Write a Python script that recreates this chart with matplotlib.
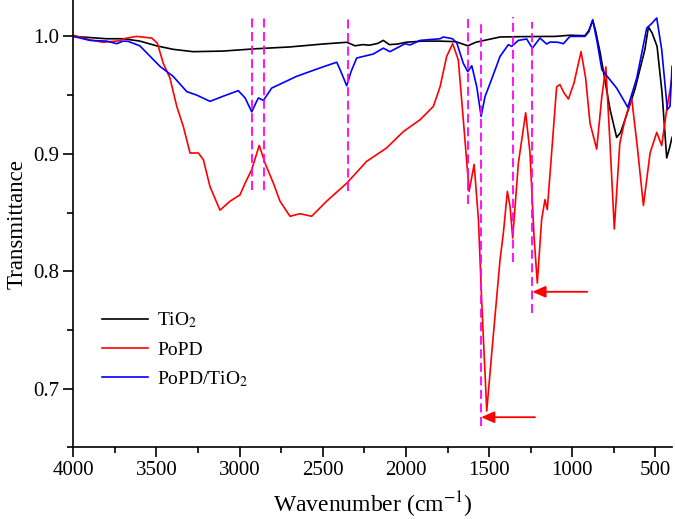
import numpy as np
import matplotlib
matplotlib.use('Agg')
import matplotlib.pyplot as plt
from matplotlib.ticker import MultipleLocator

plt.rcParams['font.family'] = ['Liberation Serif', 'DejaVu Serif']
plt.rcParams['mathtext.fontset'] = 'stix'

# TiO2 spectrum (wavenumber, transmittance)
tio2_wn = [4000, 3900, 3800, 3700, 3600, 3500, 3400, 3280, 3100, 2900, 2700, 2500,
           2355, 2306, 2260, 2220, 2170, 2136, 2100, 2050, 2000, 1900, 1800, 1700,
           1628, 1580, 1500, 1434, 1300, 1100, 1014, 924, 900, 877, 860, 832, 800,
           773, 733, 710, 683, 623, 563, 542, 520, 490, 460, 432, 415, 400]
tio2_t = [1.000, 0.999, 0.998, 0.998, 0.996, 0.992, 0.989, 0.987, 0.9875, 0.9895,
          0.991, 0.9935, 0.995, 0.992, 0.993, 0.9925, 0.994, 0.9966, 0.993, 0.9935,
          0.995, 0.996, 0.996, 0.9955, 0.992, 0.995, 0.9975, 0.9995, 0.9998, 1.000,
          1.001, 1.0006, 1.005, 1.0136, 1.005, 0.986, 0.960, 0.938, 0.914, 0.918,
          0.929, 0.955, 0.989, 1.008, 1.003, 0.9915, 0.952, 0.8965, 0.905, 0.914]

# PoPD spectrum
popd_wn = [4000, 3900, 3820, 3719, 3699, 3619, 3529, 3495, 3459, 3419, 3378, 3338,
           3298, 3248, 3218, 3178, 3118, 3058, 2998, 2967, 2927, 2882, 2847, 2797,
           2757, 2697, 2637, 2567, 2477, 2356, 2236, 2116, 2015, 1915, 1835, 1795,
           1755, 1719, 1685, 1655, 1620, 1590, 1564, 1544, 1514, 1484, 1434, 1414,
           1390, 1374, 1358, 1324, 1280, 1254, 1230, 1210, 1184, 1164, 1150, 1124,
           1094, 1074, 1050, 1023, 990, 947, 920, 893, 853, 822, 798, 773, 747, 714,
           683, 643, 609, 572, 532, 492, 462, 432, 400]
popd_t = [1.001, 0.997, 0.995, 0.9963, 0.998, 1.000, 0.9986, 0.9944, 0.977, 0.9646,
          0.9404, 0.923, 0.9007, 0.9007, 0.895, 0.872, 0.852, 0.8596, 0.865, 0.875,
          0.8866, 0.9072, 0.892, 0.875, 0.8596, 0.8468, 0.849, 0.8468, 0.8596, 0.875,
          0.8936, 0.905, 0.919, 0.929, 0.9404, 0.957, 0.983, 0.9938, 0.980, 0.929,
          0.868, 0.891, 0.844, 0.773, 0.681, 0.7305, 0.81, 0.8327, 0.868, 0.8553,
          0.8284, 0.892, 0.935, 0.9007, 0.830, 0.790, 0.844, 0.861, 0.8525, 0.9007,
          0.957, 0.959, 0.952, 0.9467, 0.960, 0.987, 0.965, 0.926, 0.904, 0.949,
          0.974, 0.909, 0.836, 0.909, 0.929, 0.9476, 0.9064, 0.856, 0.9007, 0.9183,
          0.907, 0.9376, 0.9646]

# PoPD/TiO2 spectrum
comp_wn = [4000, 3900, 3800, 3739, 3700, 3671, 3600, 3479, 3400, 3318, 3258, 3178,
           3100, 3008, 2967, 2927, 2900, 2887, 2857, 2807, 2657, 2500, 2416, 2396,
           2356, 2330, 2296, 2196, 2136, 2096, 2005, 1975, 1915, 1795, 1775, 1720,
           1694, 1655, 1628, 1604, 1574, 1548, 1524, 1494, 1434, 1384, 1364, 1324,
           1274, 1240, 1194, 1154, 1133, 1086, 1053, 1014, 924, 900, 877, 850, 822,
           782, 733, 666, 612, 552, 522, 492, 462, 428, 412, 400]
comp_t = [1.000, 0.9966, 0.996, 0.9938, 0.996, 0.9958, 0.992, 0.9745, 0.966, 0.953,
          0.950, 0.9447, 0.949, 0.9538, 0.9476, 0.9357, 0.944, 0.9476, 0.9455, 0.956,
          0.966, 0.974, 0.978, 0.9717, 0.958, 0.970, 0.9816, 0.985, 0.990, 0.987,
          0.9938, 0.9927, 0.9966, 0.998, 0.9995, 0.998, 0.9944, 0.977, 0.970, 0.975,
          0.957, 0.932, 0.949, 0.960, 0.983, 0.993, 0.9915, 0.9966, 0.9978, 0.990,
          0.9986, 0.9935, 0.9952, 0.995, 0.9938, 1.000, 1.000, 1.004, 1.0142, 0.995,
          0.9717, 0.9646, 0.956, 0.9396, 0.9646, 1.0071, 1.011, 1.0157, 0.9887,
          0.9376, 0.9406, 0.9745]

# marked bands: position, bottom, top
band_wn = [2925, 2855, 2350, 1625, 1550, 1358, 1240]
band_lo = [0.8695, 0.8695, 0.868, 0.857, 0.668, 0.8077, 0.7646]
band_hi = [1.018, 1.018, 1.0157, 1.015, 1.014, 1.0165, 1.012]

# arrows: tip, tail, level
arrow_tip = [1548, 1240]
arrow_tail = [1224, 909]
arrow_y = [0.6757, 0.7825]

fig = plt.figure(figsize=(6.75, 5.19), dpi=100)
ax = fig.add_axes([0.1086, 0.138, 0.887, 0.862])

ax.plot(tio2_wn, tio2_t, color='black', lw=1.2, label='TiO$_2$')
ax.plot(popd_wn, popd_t, color='red', lw=1.2, label='PoPD')
ax.plot(comp_wn, comp_t, color='blue', lw=1.2, label='PoPD/TiO$_2$')

for w, lo, hi in zip(band_wn, band_lo, band_hi):
    ax.plot([w, w], [lo, hi], color='#ff00ff', lw=1.3, ls=(0, (5, 2.5)))

for tip, tail, yy in zip(arrow_tip, arrow_tail, arrow_y):
    ax.annotate('', xy=(tip, yy), xytext=(tail, yy),
                arrowprops=dict(arrowstyle='-|>,head_length=0.8,head_width=0.35',
                                color='red', lw=1.3, shrinkA=0, shrinkB=0))

ax.set_xlim(4000, 400)
ax.set_ylim(0.65, 1.031)
ax.xaxis.set_major_locator(MultipleLocator(500))
ax.xaxis.set_minor_locator(MultipleLocator(250))
ax.yaxis.set_major_locator(MultipleLocator(0.1))
ax.yaxis.set_minor_locator(MultipleLocator(0.05))
ax.yaxis.set_major_formatter(plt.FormatStrFormatter('%.1f'))

ax.spines['top'].set_visible(False)
ax.spines['right'].set_visible(False)
ax.spines['left'].set_linewidth(1.2)
ax.spines['bottom'].set_linewidth(1.2)
ax.tick_params(which='major', direction='out', length=7, width=1.2, labelsize=15, pad=3)
ax.tick_params(which='minor', direction='out', length=4, width=1.2)

ax.set_xlabel('Wavenumber (cm$^{-1}$)', fontsize=17, labelpad=7)
ax.set_ylabel('Transmittance', fontsize=16.5, labelpad=4)

ax.legend(loc='upper left', bbox_to_anchor=(0.018, 0.345), frameon=False,
          fontsize=14, handlelength=2.4, handletextpad=0.45, labelspacing=0.55)

fig.savefig('out.png', dpi=100)
